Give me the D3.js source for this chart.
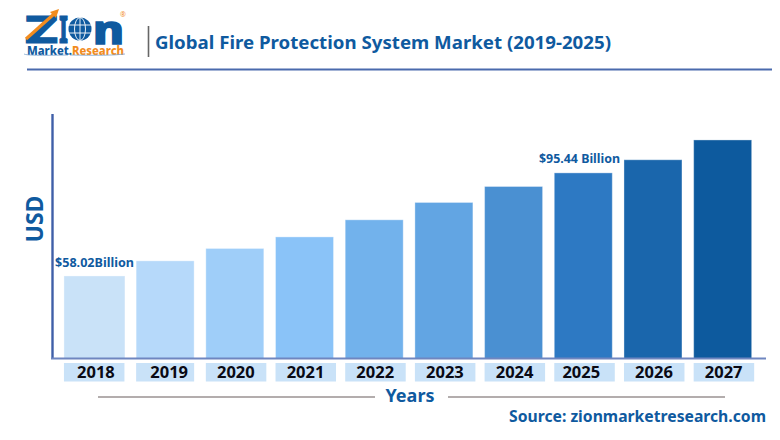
<!DOCTYPE html>
<html><head><meta charset="utf-8">
<script src="https://cdn.jsdelivr.net/npm/d3@7/dist/d3.min.js"></script>
<style>html,body{margin:0;padding:0;background:#fff}svg{display:block}</style>
</head><body><svg id="c" width="780" height="440"></svg>
<script>
const years = ["2018","2019","2020","2021","2022","2023","2024","2025","2026","2027"];
const values = [58.02,63.5,68.0,72.2,78.4,84.7,90.5,95.44,100.2,107.4];
const barColors = ["#c9e2f8","#b6d9fa","#9fcef9","#8ac3f8","#72b2ec","#62a5e3","#4a90d2","#2d79c3","#1a66ac","#0d5a9e"];
const callouts = [{year:"2018",text:"$58.02Billion"},{year:"2025",text:"$95.44 Billion"}];
const titleText = "Global Fire Protection System Market (2019-2025)";
const sourceText = "Source: zionmarketresearch.com";

const BLUE="#0f5a9f", FONT="'Noto Sans',sans-serif";
const svg=d3.select("#c");
const x=d3.scaleBand().domain(years).range([60.6,757.5]).paddingInner(0.1679).paddingOuter(0.0838);
const y=d3.scaleLinear().domain([28.05,117]).range([358.5,113.5]);

// logo
const logo=svg.append("g").attr("font-family",FONT).attr("font-weight",800);
logo.append("text").attr("x",25).attr("y",43).attr("font-size",38).attr("fill",BLUE).attr("stroke",BLUE).attr("stroke-width",1).attr("textLength",33).attr("lengthAdjust","spacingAndGlyphs").text("Z");
logo.append("text").attr("x",59).attr("y",43).attr("font-size",38).attr("fill",BLUE).attr("stroke",BLUE).attr("stroke-width",1).attr("textLength",9).attr("lengthAdjust","spacingAndGlyphs").text("I");
logo.append("circle").attr("cx",80).attr("cy",29).attr("r",11.5).attr("fill",BLUE);
logo.append("ellipse").attr("cx",80).attr("cy",29).attr("rx",5.5).attr("ry",11.5).attr("fill","none").attr("stroke","#fff").attr("stroke-width",.9);
logo.append("path").attr("d","M69 25H91M69 33H91M80 17.5V40.5").attr("stroke","#fff").attr("stroke-width",.9).attr("fill","none");
logo.append("text").attr("x",93).attr("y",43.5).attr("font-size",40).attr("fill",BLUE).attr("stroke",BLUE).attr("stroke-width",1.6).attr("textLength",31).attr("lengthAdjust","spacingAndGlyphs").text("n");
logo.append("path").attr("d","M26 39L54 14").attr("stroke","#f28c1e").attr("stroke-width",3.2).attr("fill","none");
logo.append("path").attr("d","M59 9L50 12L56 18Z").attr("fill","#f28c1e");
logo.append("text").attr("x",120).attr("y",17).attr("font-size",7).attr("font-weight",400).attr("fill","#f28c1e").text("®");
const lt=logo.append("text").attr("x",27).attr("y",55).attr("font-size",13).attr("textLength",97).attr("lengthAdjust","spacingAndGlyphs");
lt.append("tspan").attr("fill",BLUE).text("Market.");
lt.append("tspan").attr("fill","#f28c1e").text("Research");
logo.append("path").attr("d","M24 54Q27 56 68 55M70 55Q110 56 125 54").attr("fill","none").attr("stroke","#7fa6cf").attr("stroke-width",.8);

// header
svg.append("line").attr("x1",148.5).attr("x2",148.5).attr("y1",26).attr("y2",57).attr("stroke","#666").attr("stroke-width",1.6);
svg.append("text").attr("x",155).attr("y",48.7).attr("font-family",FONT).attr("font-weight",700).attr("font-size",18.5).attr("fill",BLUE).attr("textLength",456).attr("lengthAdjust","spacingAndGlyphs").text(titleText);
svg.append("line").attr("x1",27).attr("x2",772).attr("y1",69.5).attr("y2",69.5).attr("stroke","#4a6aad").attr("stroke-width",2);

// bars
const lead=d=>d===years[0]?2.5:0, trail=d=>d===years[0]?.5:0;
svg.append("g").selectAll("rect").data(years).join("rect")
 .attr("x",d=>x(d)-lead(d))
 .attr("width",d=>x.bandwidth()+lead(d)+trail(d))
 .attr("y",(d,i)=>y(values[i]))
 .attr("height",(d,i)=>y.range()[0]-y(values[i]))
 .attr("fill",(d,i)=>barColors[i])
 .attr("stroke","#fff").attr("stroke-opacity",.35).attr("stroke-width",1);

// axes
const left=svg.append("g").attr("transform","translate(52,0)").call(d3.axisLeft(y).tickValues([]).tickSize(0));
left.select(".domain").attr("stroke","#3f5fa8").attr("stroke-width",2.4);
svg.append("line").attr("x1",51).attr("x2",766).attr("y1",358.5).attr("y2",358.5).attr("stroke","#6f86c0").attr("stroke-width",2);

// tick label boxes
svg.append("g").selectAll("rect").data(years).join("rect")
 .attr("x",d=>x(d)-lead(d)).attr("y",363).attr("height",18.5)
 .attr("width",d=>d===years[1]?58:60.5).attr("fill","#c9e2f8");
const bottom=svg.append("g").attr("transform","translate(0,372)").call(d3.axisBottom(x).tickSize(0).tickPadding(0));
bottom.select(".domain").remove();
bottom.selectAll("text").attr("y",0).attr("dy","0.36em")
 .attr("x",d=>d===years[0]?0.5:(d===years[1]?4:(d===years[7]?-2:1)))
 .attr("font-family",FONT).attr("font-weight",700).attr("font-size",16.5).attr("fill","#0a0a14");

// callouts
svg.append("g").selectAll("text").data(callouts).join("text")
 .attr("x",d=>d.year===years[0]?55:539)
 .attr("y",d=>y(values[years.indexOf(d.year)])-8.5-(d.year===years[0]?0:1))
 .attr("font-family",FONT).attr("font-weight",700).attr("font-size",12).attr("fill",BLUE)
 .attr("textLength",d=>d.year===years[0]?79:81).attr("lengthAdjust","spacingAndGlyphs").text(d=>d.text);

// axis titles
svg.append("text").attr("transform","translate(43,219) rotate(-90)").attr("text-anchor","middle")
 .attr("font-family",FONT).attr("font-weight",700).attr("font-size",23).attr("fill",BLUE).text("USD");
svg.append("text").attr("x",410).attr("y",402).attr("text-anchor","middle")
 .attr("font-family",FONT).attr("font-weight",700).attr("font-size",18).attr("fill",BLUE).text("Years");
svg.selectAll("line.rule").data([[98,375],[448,725]]).join("line").attr("class","rule")
 .attr("x1",d=>d[0]).attr("x2",d=>d[1]).attr("y1",397).attr("y2",397).attr("stroke","#b3adad").attr("stroke-width",2);
svg.append("text").attr("x",509).attr("y",422).attr("font-family",FONT).attr("font-weight",700).attr("font-size",15.5)
 .attr("fill",BLUE).attr("textLength",257).attr("lengthAdjust","spacingAndGlyphs").text(sourceText);
</script></body></html>
